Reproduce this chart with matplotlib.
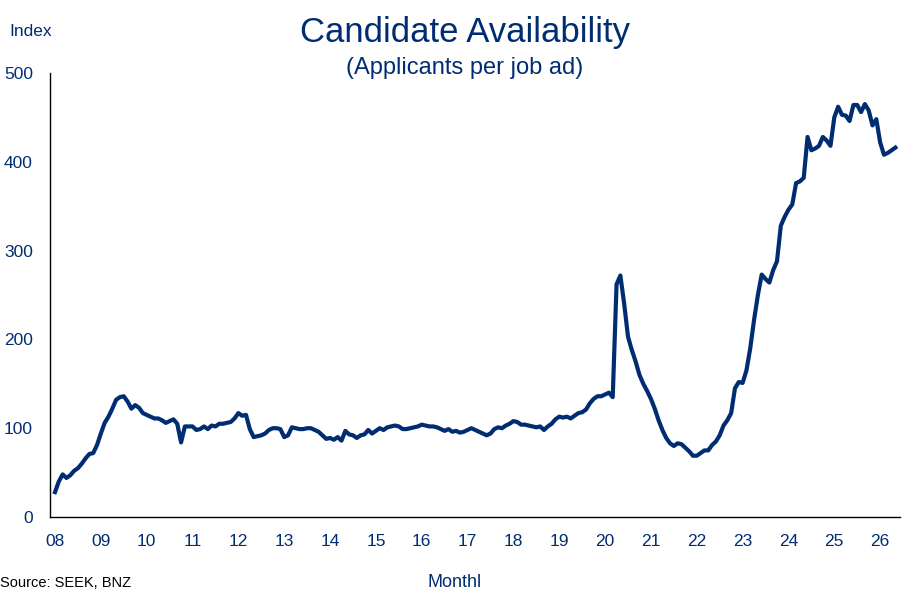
import numpy as np
import matplotlib
matplotlib.use("Agg")
import matplotlib.pyplot as plt

plt.rcParams['font.family'] = ['Liberation Sans', 'DejaVu Sans']

NAVY = '#002D72'

# monthly index values, Jan 2008 onwards
y08 = [28, 40, 48, 44, 47, 52, 55, 60, 66, 71, 72, 81]
y09 = [94, 106, 113, 122, 132, 135, 136, 130, 122, 126, 123, 117]
y10 = [115, 113, 111, 111, 109, 106, 108, 110, 105, 84, 102, 102]
y11 = [102, 98, 99, 102, 99, 103, 102, 105, 105, 106, 107, 111]
y12 = [117, 114, 115, 99, 90, 91, 92, 94, 98, 100, 100, 99]
y13 = [90, 92, 101, 100, 99, 99, 100, 100, 98, 96, 92, 88]
y14 = [89, 87, 90, 86, 97, 93, 92, 89, 92, 93, 98, 94]
y15 = [97, 100, 98, 101, 102, 103, 102, 99, 99, 100, 101, 102]
y16 = [104, 103, 102, 102, 101, 99, 97, 99, 96, 97, 95, 96]
y17 = [98, 100, 98, 96, 94, 92, 94, 99, 101, 100, 103, 105]
y18 = [108, 107, 104, 104, 103, 102, 101, 102, 98, 102, 105, 110]
y19 = [113, 112, 113, 111, 114, 117, 118, 121, 128, 133, 136, 136]
y20 = [138, 140, 135, 262, 272, 240, 203, 188, 175, 160, 150, 142]
y21 = [133, 122, 109, 98, 89, 83, 80, 83, 82, 78, 74, 69]
y22 = [69, 72, 75, 75, 81, 85, 92, 103, 109, 117, 145, 152]
y23 = [151, 165, 190, 222, 250, 273, 268, 264, 278, 288, 328, 338]
y24 = [346, 352, 376, 378, 382, 428, 413, 415, 418, 428, 424, 418]
y25 = [450, 462, 453, 452, 446, 464, 464, 456, 465, 458, 441, 448]
y26 = [422, 408, 410, 413, 416]

year_labels = ['08', '09', '10', '11', '12', '13', '14', '15', '16', '17',
               '18', '19', '20', '21', '22', '23', '24', '25', '26']
y_ticks = [0, 100, 200, 300, 400, 500]

values = np.array(y08 + y09 + y10 + y11 + y12 + y13 + y14 + y15 + y16 + y17
                  + y18 + y19 + y20 + y21 + y22 + y23 + y24 + y25 + y26)
months = np.arange(len(values))

fig = plt.figure(figsize=(9.15, 5.97), dpi=100)
ax = fig.add_axes([0.0541, 0.134, 0.9295, 0.7437])

ax.plot(months, values, color=NAVY, lw=3.0, solid_joinstyle='round')

ax.set_xlim(-1.44, 221.2)
ax.set_ylim(0, 500)
ax.set_yticks(y_ticks)
ax.set_xticks(np.arange(len(year_labels)) * 12)
ax.set_xticklabels(year_labels)

for s in ['top', 'right']:
    ax.spines[s].set_visible(False)
for s in ['left', 'bottom']:
    ax.spines[s].set_color('black')
    ax.spines[s].set_linewidth(1.0)

ax.tick_params(axis='both', length=0, labelsize=12.5, labelcolor=NAVY)
ax.tick_params(axis='y', pad=12)
ax.tick_params(axis='x', pad=12)

# titles and labels
fig.text(0.508, 0.945, 'Candidate Availability', ha='center', va='center',
         fontsize=25, color=NAVY)
fig.text(0.508, 0.886, '(Applicants per job ad)', ha='center', va='center',
         fontsize=17, color=NAVY)
fig.text(0.034, 0.947, 'Index', ha='center', va='center', fontsize=12.5, color=NAVY)
fig.text(0.497, 0.0166, 'Monthl', ha='center', va='baseline', fontsize=13, color=NAVY)
fig.text(0.0, 0.0166, 'Source: SEEK, BNZ', ha='left', va='baseline', fontsize=10.5,
         color='black')

fig.savefig('out.png', dpi=100)
